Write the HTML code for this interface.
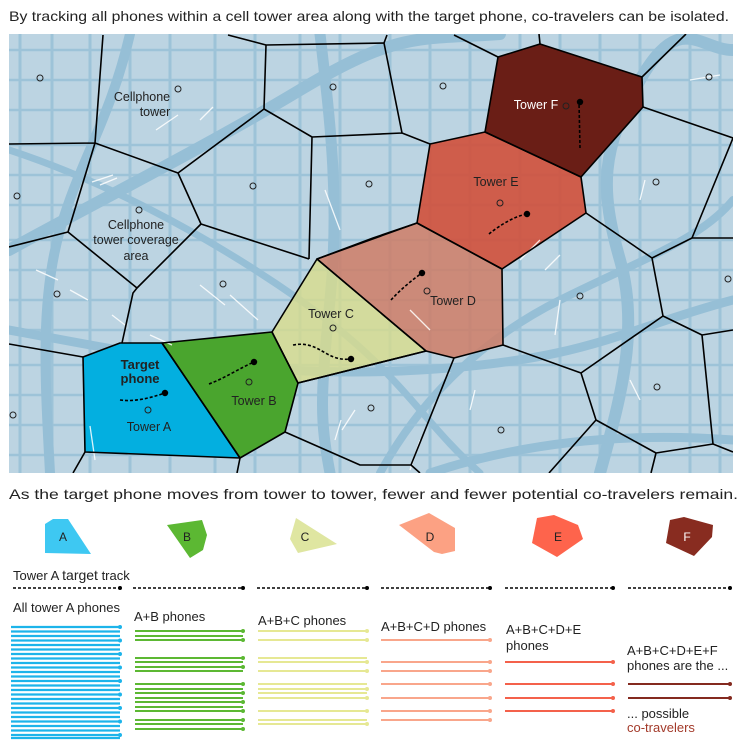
<!DOCTYPE html>
<html><head><meta charset="utf-8"><style>
html,body{margin:0;padding:0;background:#fff;}
svg{display:block;font-family:"Liberation Sans",sans-serif;}
</style></head><body>
<svg width="748" height="752" viewBox="0 0 748 752" xmlns="http://www.w3.org/2000/svg">
<text x="9" y="21" font-size="14" fill="#222" textLength="720" lengthAdjust="spacingAndGlyphs">By tracking all phones within a cell tower area along with the target phone, co-travelers can be isolated.</text>
<defs><clipPath id="m"><rect x="9" y="34" width="724" height="439"/></clipPath></defs>
<g clip-path="url(#m)">
<rect x="9" y="34" width="724" height="439" fill="#bcd4e2"/>
<g stroke="#9dc3d8" stroke-width="3" fill="none">
<path d="M20 34V473M52 34V473M90 34V473M130 34V473M170 34V473M215 34V473M255 34V473M300 34V473M340 34V473M390 34V473M430 34V473M470 34V473M520 34V473M560 34V473M600 34V473M640 34V473M690 34V473M720 34V473"/>
<path d="M9 50H733M9 80H733M9 110H733M9 145H733M9 175H733M9 205H733M9 240H733M9 270H733M9 300H733M9 330H733M9 365H733M9 395H733M9 425H733M9 455H733" stroke-width="2.5"/>
</g>
<g stroke="#96bfd6" fill="none" stroke-linecap="round">
<path d="M9 250 C100 200 200 150 300 90 S420 40 500 34" stroke-width="12"/>
<path d="M50 473 C45 380 40 300 60 230 S110 120 130 34" stroke-width="10"/>
<path d="M320 34 C330 120 340 200 330 300 S320 420 330 473" stroke-width="11"/>
<path d="M9 330 C120 350 250 380 420 370 S620 330 733 300" stroke-width="9"/>
<path d="M600 473 C620 400 640 330 620 260 S600 150 640 80 S700 50 733 50" stroke-width="12"/>
<path d="M380 473 C420 400 480 340 560 300 S700 240 733 200" stroke-width="8"/>
<path d="M9 150 C100 180 200 230 300 300 S420 420 480 473" stroke-width="7"/>
<path d="M430 473 C500 450 600 430 733 440" stroke-width="9"/>
</g>
<g fill="#03afe0" stroke="none"><polygon points="83,357 120,343 162,343 240,458 85,452"/></g>
<polygon points="162,343 272,332 298,383 285,432 240,458" fill="#4aa52e"/>
<polygon points="272,332 317,259 426,351 298,383" fill="#d8dc8c" opacity="0.8"/>
<polygon points="317,259 417,223 502,269 503,345 454,358 426,351" fill="#cf7c66" opacity="0.85"/>
<polygon points="417,223 430,144 485,132 581,177 586,213 502,269" fill="#d0523e" opacity="0.92"/>
<polygon points="485,132 498,57 540,44 642,77 643,107 581,177" fill="#6a1e16"/>
<g stroke="#fff" stroke-width="1.3" fill="none" opacity="0.85">
<path d="M156 130L178 115M200 120L213 107M92 182L113 175M100 185L117 178M36 270L58 280M70 290L88 300M112 315L125 325M150 335L172 345M200 285L225 305M230 295L258 320M325 190L340 230M90 426L95 460M342 430L355 410M335 440L341 420M410 310L430 330M520 260L540 240M545 270L560 255M640 200L645 180M555 335L560 300M630 380L640 400M410 470L420 440M470 410L475 390M690 80L720 75"/>
</g>
<g stroke="#000" stroke-width="1.6" fill="none" stroke-linejoin="round">
<polygon points="83,357 120,343 162,343 240,458 85,452"/>
<polygon points="162,343 272,332 298,383 285,432 240,458"/>
<polygon points="272,332 317,259 426,351 298,383"/>
<polygon points="317,259 417,223 502,269 503,345 454,358 426,351"/>
<polygon points="417,223 430,144 485,132 581,177 586,213 502,269"/>
<polygon points="485,132 498,57 540,44 642,77 643,107 581,177"/>
<path d="M103 35L95 143M9 144L95 143L178 173L264 109L266 45M228 35L266 45L384 43L387 35M384 43L402 133M264 109L312 137L402 133L430 144M312 137L309 259M178 173L201 224L309 259M201 224L137 288L68 232L95 143M68 232L9 247M137 288L133 293L122 343M9 344L83 357M85 452L73 473M240 458L237 473M285 432L360 465L411 465L420 473M298 383L426 351M317 259L373 238L417 223"/>
<path d="M498 57L454 35M540 44L539 34M642 77L686 34M643 107L733 138L692 238L733 238M692 238L652 258L586 213M652 258L663 316L702 335L733 330M702 335L713 444L733 452M663 316L581 373L503 345M581 373L596 420L656 453L713 444M656 453L651 473M596 420L549 473M454 358L411 465"/>
</g>
<g fill="none" stroke="#222" stroke-width="1">
<circle cx="40" cy="78" r="3"/><circle cx="178" cy="89" r="3"/><circle cx="139" cy="210" r="3"/><circle cx="253" cy="186" r="3"/><circle cx="333" cy="87" r="3"/><circle cx="369" cy="184" r="3"/><circle cx="17" cy="196" r="3"/><circle cx="57" cy="294" r="3"/><circle cx="223" cy="284" r="3"/><circle cx="333" cy="328" r="3"/><circle cx="148" cy="410" r="3"/><circle cx="249" cy="382" r="3"/><circle cx="13" cy="415" r="3"/><circle cx="371" cy="408" r="3"/>
<circle cx="443" cy="86" r="3"/><circle cx="566" cy="106" r="3"/><circle cx="709" cy="77" r="3"/><circle cx="656" cy="182" r="3"/><circle cx="500" cy="203" r="3"/><circle cx="427" cy="291" r="3"/><circle cx="728" cy="279" r="3"/><circle cx="580" cy="296" r="3"/><circle cx="657" cy="387" r="3"/><circle cx="501" cy="430" r="3"/>
</g>
<g stroke="#000" stroke-width="1.6" fill="none" stroke-dasharray="3,2">
<path d="M120 400C135 402 150 398 165 393"/><path d="M209 384C225 378 240 368 254 362"/><path d="M293 345C320 340 325 362 351 359"/><path d="M391 300C400 290 412 280 422 273"/><path d="M489 234C500 225 515 216 527 214"/><path d="M580 148L579 102"/>
</g>
<g fill="#000"><circle cx="165" cy="393" r="3.2"/><circle cx="254" cy="362" r="3.2"/><circle cx="351" cy="359" r="3.2"/><circle cx="422" cy="273" r="3.2"/><circle cx="527" cy="214" r="3.2"/><circle cx="580" cy="102" r="3.2"/></g>
<g font-size="12.5" fill="#222" text-anchor="middle">
<text x="142" y="101">Cellphone</text><text x="155" y="116">tower</text>
<text x="136" y="229">Cellphone</text><text x="136" y="244">tower coverage</text><text x="136" y="260">area</text>
<text x="149" y="431">Tower A</text><text x="254" y="405">Tower B</text><text x="331" y="318">Tower C</text><text x="453" y="305">Tower D</text><text x="496" y="186">Tower E</text><text x="536" y="109" fill="#fff">Tower F</text>
<text x="140" y="369" font-weight="bold" font-size="13">Target</text><text x="140" y="383" font-weight="bold" font-size="13">phone</text>
</g>
</g>
<text x="9" y="499" font-size="14" fill="#222" textLength="729" lengthAdjust="spacingAndGlyphs">As the target phone moves from tower to tower, fewer and fewer potential co-travelers remain.</text>
<polygon points="45,524 53,519 68,519 91,554 45,553" fill="#3ec8f2"/>
<polygon points="167,525 202,520 207,535 203,550 190,558" fill="#5cb833"/>
<polygon points="296,518 337,544 298,553 290,539" fill="#dfe6a1"/>
<polygon points="399,525 429,513 455,528 455,551 442,554 434,552" fill="#fca183"/>
<polygon points="537,518 554,515 578,525 583,539 557,557 532,543" fill="#fe644c"/>
<polygon points="670,520 684,517 713,525 712,537 694,556 666,543" fill="#882c20"/>
<g font-size="12" text-anchor="middle" fill="#222"><text x="63" y="541">A</text><text x="187" y="541">B</text><text x="305" y="541">C</text><text x="430" y="541">D</text><text x="558" y="541">E</text><text x="687" y="541" fill="#fff">F</text></g>
<text x="13" y="580" font-size="13" fill="#222">Tower A <tspan font-size="14">target</tspan> track</text>
<g stroke="#000" stroke-width="1.5" stroke-dasharray="3,2"><path d="M13 588H120M133 588H243M257 588H367M381 588H490M505 588H613M628 588H730"/></g>
<g fill="#000"><circle cx="120" cy="588" r="2"/><circle cx="243" cy="588" r="2"/><circle cx="367" cy="588" r="2"/><circle cx="490" cy="588" r="2"/><circle cx="613" cy="588" r="2"/><circle cx="730" cy="588" r="2"/></g>
<g font-size="13" fill="#222">
<text x="13" y="612">All tower A phones</text>
<text x="134" y="621">A+B phones</text>
<text x="258" y="625">A+B+C phones</text>
<text x="381" y="631">A+B+C+D phones</text>
<text x="506" y="634">A+B+C+D+E</text><text x="506" y="650">phones</text>
<text x="627" y="655">A+B+C+D+E+F</text><text x="627" y="670">phones are the ...</text>
<text x="627" y="718">... possible</text><text x="627" y="732" fill="#a33a2a">co-travelers</text>
</g>
<g stroke="#1db4ea" stroke-width="2.2" fill="#1db4ea" id="blue">
<path d="M11 627H120M11 631.5H120M11 636H120M11 640.5H120M11 645H120M11 649.5H120M11 654H120M11 658.5H120M11 663H120M11 667.5H120M11 672H120M11 676.5H120M11 681H120M11 685.5H120M11 690H120M11 694.5H120M11 699H120M11 703.5H120M11 708H120M11 712.5H120M11 717H120M11 721.5H120M11 726H120M11 730.5H120M11 735H120M11 738H120"/>
</g>
<g fill="#1db4ea"><circle cx="120" cy="627" r="2"/><circle cx="120" cy="640.5" r="2"/><circle cx="120" cy="654" r="2"/><circle cx="120" cy="667.5" r="2"/><circle cx="120" cy="681" r="2"/><circle cx="120" cy="694.5" r="2"/><circle cx="120" cy="708" r="2"/><circle cx="120" cy="721.5" r="2"/><circle cx="120" cy="735" r="2"/></g>
<g stroke="#5cb833" stroke-width="2"><path d="M135 631H243M135 636H243M135 640H243M135 658H243M135 662H243M135 667H243M135 671H243M135 684H243M135 689H243M135 693H243M135 698H243M135 702H243M135 707H243M135 711H243M135 720H243M135 724H243M135 729H243"/></g>
<g stroke="#e6e894" stroke-width="2"><path d="M258 631H367M258 640H367M258 658H367M258 662H367M258 671H367M258 684H367M258 689H367M258 693H367M258 698H367M258 711H367M258 720H367M258 724H367"/></g>
<g stroke="#f9a68b" stroke-width="2"><path d="M381 640H490M381 662H490M381 671H490M381 684H490M381 698H490M381 711H490M381 720H490"/></g>
<g stroke="#f4614b" stroke-width="2"><path d="M505 662H613M505 684H613M505 698H613M505 711H613"/></g>
<g stroke="#842a1f" stroke-width="2"><path d="M628 684H730M628 698H730"/></g>
<g>
<g fill="#5cb833"><circle cx="243" cy="631" r="2"/><circle cx="243" cy="640" r="2"/><circle cx="243" cy="658" r="2"/><circle cx="243" cy="667" r="2"/><circle cx="243" cy="684" r="2"/><circle cx="243" cy="693" r="2"/><circle cx="243" cy="702" r="2"/><circle cx="243" cy="711" r="2"/><circle cx="243" cy="720" r="2"/><circle cx="243" cy="729" r="2"/></g>
<g fill="#e6e894"><circle cx="367" cy="631" r="2"/><circle cx="367" cy="640" r="2"/><circle cx="367" cy="662" r="2"/><circle cx="367" cy="671" r="2"/><circle cx="367" cy="689" r="2"/><circle cx="367" cy="698" r="2"/><circle cx="367" cy="711" r="2"/><circle cx="367" cy="724" r="2"/></g>
<g fill="#f9a68b"><circle cx="490" cy="640" r="2"/><circle cx="490" cy="662" r="2"/><circle cx="490" cy="671" r="2"/><circle cx="490" cy="684" r="2"/><circle cx="490" cy="698" r="2"/><circle cx="490" cy="711" r="2"/><circle cx="490" cy="720" r="2"/></g>
<g fill="#f4614b"><circle cx="613" cy="662" r="2"/><circle cx="613" cy="684" r="2"/><circle cx="613" cy="698" r="2"/><circle cx="613" cy="711" r="2"/></g>
<g fill="#842a1f"><circle cx="730" cy="684" r="2"/><circle cx="730" cy="698" r="2"/></g>
</g>
</svg>
</body></html>
